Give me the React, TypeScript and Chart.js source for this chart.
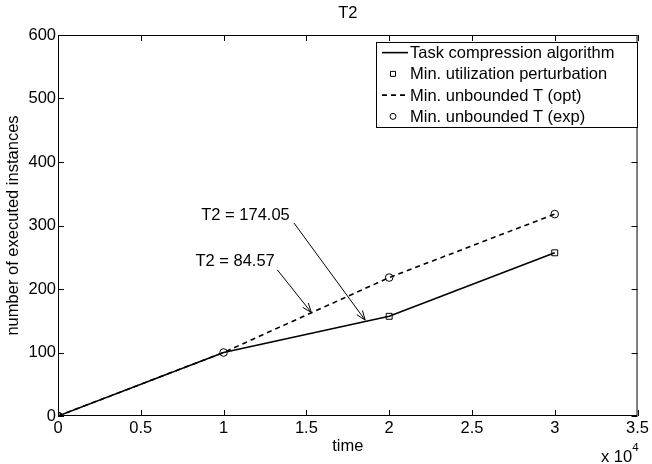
import React, { useEffect, useRef } from "react";
import { Chart, registerables } from "chart.js";

Chart.register(...registerables);

// ---- data ----
const times = [0, 10000, 20000, 30000];
const taskCompression = [0, 100, 157, 257];
const perturbTimes = [0, 20000, 30000];
const perturbValues = [0, 157, 257];
const optValues = [0, 100, 218, 318];
const expValues = [0, 100, 218, 318];

const seriesLabels = [
  "Task compression algorithm",
  "Min. utilization perturbation",
  "Min. unbounded T (opt)",
  "Min. unbounded T (exp)",
];

const chartTitle = "T2";
const xTitle = "time";
const yTitle = "number of executed instances";

const annotationLabels = ["T2 = 174.05", "T2 = 84.57"];
// text anchor, arrow tail and arrow head (data coords)
const annotationText = [
  [8650, 316],
  [8300, 244],
];
const annotationTail = [
  [14250, 304],
  [13250, 230],
];
const annotationHead = [
  [18550, 151],
  [15300, 163],
];

const FONT = "'Liberation Sans', Arial, Helvetica, sans-serif";
const FS = 16.5;

function toXY(xs: number[], ys: number[]) {
  return xs.map((x, i) => ({ x, y: ys[i] }));
}

const decorPlugin = {
  id: "decor",
  afterDraw(chart: any) {
    const { ctx, chartArea: a, scales } = chart;
    const xs = scales.x;
    const ys = scales.y;
    ctx.save();
    // box
    ctx.strokeStyle = "#000";
    ctx.lineWidth = 1;
    ctx.strokeRect(a.left + 0.5, a.top + 0.5, a.right - a.left - 1, a.bottom - a.top - 1);
    // inward ticks
    const tl = 6;
    ctx.beginPath();
    xs.ticks.forEach((t: any) => {
      const px = Math.round(xs.getPixelForValue(t.value)) + 0.5;
      ctx.moveTo(px, a.bottom);
      ctx.lineTo(px, a.bottom - tl);
      ctx.moveTo(px, a.top);
      ctx.lineTo(px, a.top + tl);
    });
    ys.ticks.forEach((t: any) => {
      const py = Math.round(ys.getPixelForValue(t.value)) + 0.5;
      ctx.moveTo(a.left, py);
      ctx.lineTo(a.left + tl, py);
      ctx.moveTo(a.right, py);
      ctx.lineTo(a.right - tl, py);
    });
    ctx.stroke();

    ctx.fillStyle = "#000";
    ctx.font = `${FS}px ${FONT}`;
    // title
    ctx.textAlign = "center";
    ctx.textBaseline = "middle";
    ctx.fillText(chartTitle, (a.left + a.right) / 2, 13);
    // x title
    ctx.fillText(xTitle, (a.left + a.right) / 2, 446);
    // y title
    ctx.save();
    ctx.translate(13, (a.top + a.bottom) / 2);
    ctx.rotate(-Math.PI / 2);
    ctx.fillText(yTitle, 0, 0);
    ctx.restore();
    // x 10^4
    ctx.textAlign = "right";
    ctx.textBaseline = "alphabetic";
    ctx.font = `${FS - 5}px ${FONT}`;
    const supW = ctx.measureText("4").width;
    ctx.fillText("4", a.right + 1, 451);
    ctx.font = `${FS}px ${FONT}`;
    ctx.fillText("x 10", a.right + 1 - supW, 462);

    // annotations
    ctx.textAlign = "left";
    ctx.textBaseline = "middle";
    annotationLabels.forEach((lab, i) => {
      const tx = xs.getPixelForValue(annotationText[i][0]);
      const ty = ys.getPixelForValue(annotationText[i][1]);
      ctx.fillText(lab, tx, ty);
      const x1 = xs.getPixelForValue(annotationTail[i][0]);
      const y1 = ys.getPixelForValue(annotationTail[i][1]);
      const x2 = xs.getPixelForValue(annotationHead[i][0]);
      const y2 = ys.getPixelForValue(annotationHead[i][1]);
      ctx.beginPath();
      ctx.lineWidth = 1;
      ctx.moveTo(x1, y1);
      ctx.lineTo(x2, y2);
      const ang = Math.atan2(y2 - y1, x2 - x1);
      const hl = 10;
      const ha = 0.36;
      ctx.moveTo(x2, y2);
      ctx.lineTo(x2 - hl * Math.cos(ang - ha), y2 - hl * Math.sin(ang - ha));
      ctx.moveTo(x2, y2);
      ctx.lineTo(x2 - hl * Math.cos(ang + ha), y2 - hl * Math.sin(ang + ha));
      ctx.stroke();
    });

    // legend
    const L = 376, T = 42, R = 637, B = 127;
    ctx.fillStyle = "#fff";
    ctx.fillRect(L, T, R - L, B - T);
    ctx.strokeStyle = "#000";
    ctx.lineWidth = 1;
    ctx.strokeRect(L + 0.5, T + 0.5, R - L, B - T);
    const ds = chart.data.datasets;
    const rowH = (B - T) / ds.length;
    ds.forEach((d: any, i: number) => {
      const cy = T + rowH * (i + 0.5);
      ctx.save();
      ctx.strokeStyle = "#000";
      if (d.showLine !== false) {
        ctx.lineWidth = d.borderWidth;
        ctx.setLineDash(d.borderDash || []);
        ctx.beginPath();
        ctx.moveTo(L + 6, cy);
        ctx.lineTo(L + 32, cy);
        ctx.stroke();
      } else {
        ctx.lineWidth = 1;
        ctx.beginPath();
        if (d.pointStyle === "rect") {
          ctx.rect(L + 17 - 2.5, cy - 2.5, 5, 5);
        } else {
          ctx.arc(L + 17, cy, 3, 0, Math.PI * 2);
        }
        ctx.stroke();
      }
      ctx.restore();
      ctx.fillStyle = "#000";
      ctx.font = `${FS}px ${FONT}`;
      ctx.textAlign = "left";
      ctx.textBaseline = "middle";
      ctx.fillText(d.label, L + 34, cy + 1);
    });
    ctx.restore();
  },
};

export default function App() {
  const ref = useRef<HTMLCanvasElement | null>(null);
  useEffect(() => {
    document.body.style.margin = "0";
    const canvas = ref.current!;
    const chart = new Chart(canvas, {
      type: "line",
      data: {
        datasets: [
          {
            label: seriesLabels[0],
            data: toXY(times, taskCompression),
            borderColor: "#000",
            borderWidth: 1.6,
            pointRadius: 0,
            fill: false,
          },
          {
            label: seriesLabels[1],
            data: toXY(perturbTimes, perturbValues),
            showLine: false,
            pointStyle: "rect",
            pointRadius: 4.2,
            borderColor: "#000",
            borderWidth: 1,
            backgroundColor: "rgba(0,0,0,0)",
          },
          {
            label: seriesLabels[2],
            data: toXY(times, optValues),
            borderColor: "#000",
            borderWidth: 1.6,
            borderDash: [5, 4],
            pointRadius: 0,
            fill: false,
          },
          {
            label: seriesLabels[3],
            data: toXY(times, expValues),
            showLine: false,
            pointStyle: "circle",
            pointRadius: 3.8,
            borderColor: "#000",
            borderWidth: 1,
            backgroundColor: "rgba(0,0,0,0)",
          },
        ] as any,
      },
      options: {
        animation: false,
        responsive: false,
        layout: { padding: { top: 35, right: 12, left: 0, bottom: 0 } },
        plugins: {
          legend: { display: false },
          title: { display: false },
          tooltip: { enabled: false },
        },
        scales: {
          x: {
            type: "linear",
            min: 0,
            max: 35000,
            grid: { display: false, drawTicks: false },
            border: { display: false },
            ticks: {
              stepSize: 5000,
              padding: 3,
              color: "#000",
              font: { family: FONT, size: FS },
              maxRotation: 0,
              callback: (v: any) => String(Number(v) / 10000),
            },
            afterFit: (s: any) => {
              s.height = 48;
            },
          },
          y: {
            type: "linear",
            min: 0,
            max: 600,
            grid: { display: false, drawTicks: false },
            border: { display: false },
            ticks: {
              stepSize: 100,
              padding: 2,
              color: "#000",
              font: { family: FONT, size: FS },
            },
            afterFit: (s: any) => {
              s.width = 58;
            },
          },
        },
      },
      plugins: [decorPlugin],
    });
    return () => chart.destroy();
  }, []);
  return <canvas ref={ref} width={652} height={464} style={{ display: "block" }} />;
}
